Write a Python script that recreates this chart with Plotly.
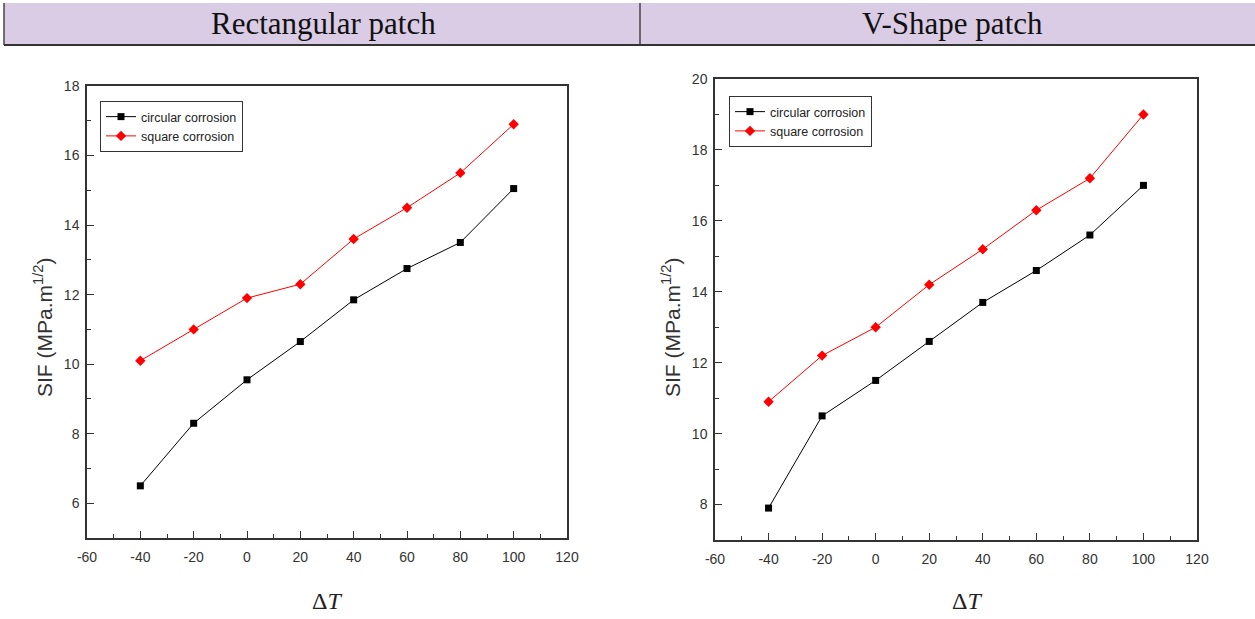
import plotly.graph_objects as go

W, H = 1255, 619

delta_t = [-40, -20, 0, 20, 40, 60, 80, 100]
rect_circular = [6.5, 8.3, 9.55, 10.65, 11.85, 12.75, 13.5, 15.05]
rect_square = [10.1, 11.0, 11.9, 12.3, 13.6, 14.5, 15.5, 16.9]
v_circular = [7.9, 10.5, 11.5, 12.6, 13.7, 14.6, 15.6, 17.0]
v_square = [10.9, 12.2, 13.0, 14.2, 15.2, 16.3, 17.2, 19.0]

panel_titles = ["Rectangular patch", "V-Shape patch"]
series_names = ["circular corrosion", "square corrosion"]
x_ticks = [-60, -40, -20, 0, 20, 40, 60, 80, 100, 120]
x_tick_text = ["-60", "-40", "-20", "0", "20", "40", "60", "80", "100", "120"]


def px(x):
    return x / W


def py(y):
    return 1 - y / H


fig = go.Figure()

panels = [
    dict(xa="x", ya="y", leg="legend", c=rect_circular, s=rect_square),
    dict(xa="x2", ya="y2", leg="legend2", c=v_circular, s=v_square),
]
for p in panels:
    fig.add_trace(go.Scatter(
        x=delta_t, y=p["c"], name=series_names[0], mode="lines+markers",
        line=dict(color="black", width=1),
        marker=dict(symbol="square", size=7, color="black"),
        xaxis=p["xa"], yaxis=p["ya"], legend=p["leg"]))
    fig.add_trace(go.Scatter(
        x=delta_t, y=p["s"], name=series_names[1], mode="lines+markers",
        line=dict(color="red", width=1),
        marker=dict(symbol="diamond", size=8, color="red"),
        xaxis=p["xa"], yaxis=p["ya"], legend=p["leg"]))

tickfont = dict(family="Arial, Liberation Sans", size=14, color="#333")
common_x = dict(range=[-60, 120], tickvals=x_ticks, ticktext=x_tick_text,
                ticks="inside", ticklen=7,
                tickwidth=1, tickcolor="#333", showline=True, linecolor="#333",
                linewidth=1.5, mirror=True, showgrid=False, zeroline=False,
                tickfont=tickfont, ticklabelstandoff=5,
                minor=dict(ticks="inside", ticklen=4, dtick=10, tickcolor="#333"))
common_y = dict(ticks="inside", ticklen=7, tickwidth=1, tickcolor="#333",
                showline=True, linecolor="#333", linewidth=1.5, mirror=True,
                showgrid=False, zeroline=False, tickfont=tickfont, dtick=2,
                ticklabelstandoff=3,
                minor=dict(ticks="inside", ticklen=4, dtick=1, tickcolor="#333"))

legfont = dict(family="Arial, Liberation Sans", size=12.5, color="#222")
fig.update_layout(
    width=W, height=H, margin=dict(l=0, r=0, t=0, b=0, autoexpand=False),
    paper_bgcolor="white", plot_bgcolor="white", showlegend=True,
    xaxis=dict(domain=[px(87), px(567)], anchor="y", **common_x),
    yaxis=dict(domain=[py(538), py(86)], anchor="x", range=[5, 18], **common_y),
    xaxis2=dict(domain=[px(715), px(1197)], anchor="y2", **common_x),
    yaxis2=dict(domain=[py(540), py(79)], anchor="x2", range=[7, 20], **common_y),
    legend=dict(x=px(100), y=py(101), xanchor="left", yanchor="top",
                bordercolor="#333", borderwidth=1, bgcolor="white",
                font=legfont, tracegroupgap=0, itemwidth=30),
    legend2=dict(x=px(729), y=py(96), xanchor="left", yanchor="top",
                 bordercolor="#333", borderwidth=1, bgcolor="white",
                 font=legfont, tracegroupgap=0, itemwidth=30),
)

# Header band
shapes = [
    dict(type="rect", xref="paper", yref="paper", x0=px(4), x1=1, y0=py(45), y1=py(3),
         fillcolor="#DACCE4", line=dict(width=0), layer="below"),
    dict(type="line", xref="paper", yref="paper", x0=px(4), x1=px(4), y0=py(45), y1=py(3),
         line=dict(color="#444", width=1.5)),
    dict(type="line", xref="paper", yref="paper", x0=px(640), x1=px(640), y0=py(45), y1=py(3),
         line=dict(color="#444", width=1.5)),
    dict(type="line", xref="paper", yref="paper", x0=px(4), x1=1, y0=py(45), y1=py(45),
         line=dict(color="#333", width=2)),
]
fig.update_layout(shapes=shapes)

serif = "Times New Roman, Liberation Serif, serif"
annotations = []
for xc, t in zip([323, 952], panel_titles):
    annotations.append(dict(xref="paper", yref="paper", x=px(xc), y=py(23), text=t,
                            showarrow=False, xanchor="center", yanchor="middle",
                            font=dict(family=serif, size=31, color="#111")))
for xc in [43, 671]:
    annotations.append(dict(xref="paper", yref="paper", x=px(xc), y=py(328),
                            text="SIF (MPa.m<sup>1/2</sup>)", textangle=-90, showarrow=False,
                            xanchor="center", yanchor="middle",
                            font=dict(family="Arial, Liberation Sans", size=21, color="#333")))
for xc in [327, 967]:
    annotations.append(dict(xref="paper", yref="paper", x=px(xc), y=py(601),
                            text="Δ<i>T</i>", showarrow=False,
                            xanchor="center", yanchor="middle",
                            font=dict(family=serif, size=24, color="#222")))
fig.update_layout(annotations=annotations)

fig.write_html("out.html")
